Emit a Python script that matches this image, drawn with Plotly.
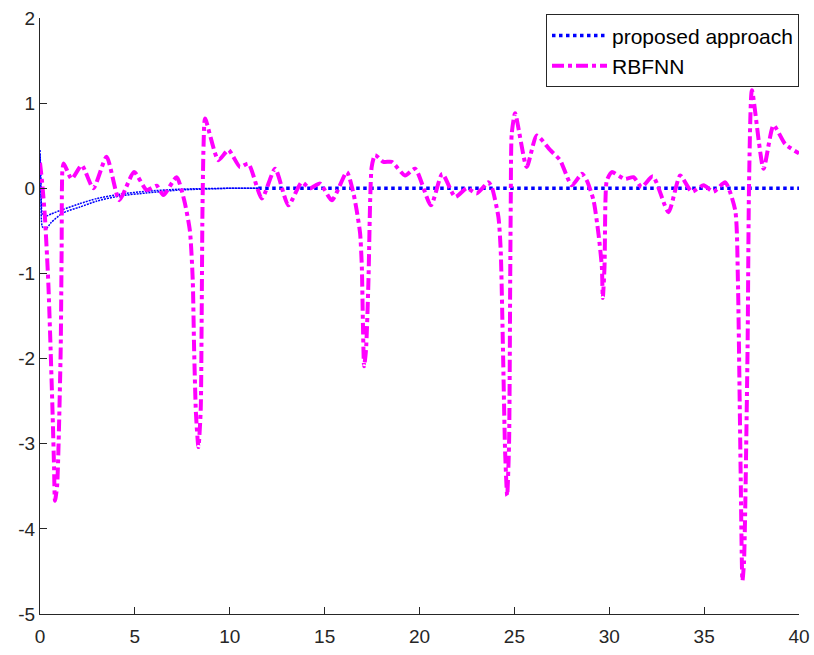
import plotly.graph_objects as go

# RBFNN tracking error
t_rbf = [0, 0.12, 0.26, 0.44, 0.56, 0.67, 0.74, 0.79, 0.9, 0.97, 1.09, 1.14, 1.18, 1.25,
         1.67, 2.2, 2.81, 3.51, 4.18, 4.96, 5.62, 6.15, 6.5, 7.2, 7.6, 7.9, 8.05, 8.12,
         8.22, 8.35, 8.47, 8.52, 8.56, 8.62, 8.7, 9.4, 9.93, 10.54, 10.98, 11.69, 12.39,
         13.09, 13.79, 14.23, 14.76, 15.38, 16.17, 16.52, 16.69, 16.87, 16.96, 17.02,
         17.08, 17.18, 17.31, 17.4, 17.48, 17.66, 18.1, 18.54, 19.24, 19.77, 20.6, 21.2,
         21.88, 22.49, 23.02, 23.63, 23.81, 24.16, 24.28, 24.4, 24.51, 24.62, 24.72,
         24.78, 24.81, 24.86, 25.04, 25.65, 26.18, 26.88, 27.41, 28.03, 28.56, 28.82,
         29.17, 29.43, 29.61, 29.66, 29.75, 29.8, 29.87, 30.14, 30.8, 31.28, 31.7, 32.3,
         33.12, 33.74, 34.35, 34.97, 35.49, 36.11, 36.64, 36.78, 36.86, 36.93, 37.02,
         37.1, 37.16, 37.29, 37.37, 37.52, 38.13, 38.66, 39.27, 40.0]
e_rbf = [0.3, 0.05, -0.34, -1.12, -1.9, -2.69, -3.27, -3.67, -3.5, -3.08, -1.9, -0.73, 0.21, 0.29,
         0.11, 0.27, 0.0, 0.37, -0.14, 0.19, -0.02, 0.03, -0.08, 0.13, -0.14, -0.5, -1.08, -1.87,
         -2.65, -3.04, -2.6, -1.5, -0.3, 0.5, 0.82, 0.33, 0.45, 0.25, 0.29, -0.12, 0.23,
         -0.2, 0.07, 0.0, 0.055, -0.14, 0.19, -0.06, -0.26, -0.53, -0.92, -1.6,
         -2.09, -1.9, -1.08, -0.14, 0.25, 0.39, 0.31, 0.31, 0.15, 0.23, -0.2, 0.17,
         -0.1, 0.0, -0.06, 0.07, 0.015, -0.34, -0.73, -1.9, -3.08, -3.61, -3.0,
         -1.08, -0.14, 0.64, 0.88, 0.25, 0.62, 0.45, 0.33, 0.035, 0.17, 0.09,
         -0.14, -0.53, -0.92, -1.29, -0.92, -0.14, 0.09, 0.19, 0.11, 0.13, 0.015, 0.14,
         -0.28, 0.15, -0.04, 0.035, -0.04, 0.07, -0.26, -1.08, -2.26, -3.43, -4.61,
         -4.4, -3.84, -1.87, 0.09, 1.15, 0.23, 0.74, 0.52, 0.41]

# proposed approach: transient band (upper / lower edge) and steady state
t_tr = [0, 0.05, 0.12, 0.3, 0.6, 1.2, 2.1, 3.0, 4.2, 5.6, 7.4, 10, 11.5]
e_tr_hi = [0.45, 0.1, -0.3, -0.33, -0.3, -0.25, -0.18, -0.12, -0.07, -0.035, -0.01, 0, 0]
e_tr_lo = [0.40, -0.1, -0.45, -0.48, -0.40, -0.29, -0.22, -0.15, -0.09, -0.055, -0.02, 0, 0]
t_ss = [11.5, 40]
e_ss = [0, 0]

x_ticks = [0, 5, 10, 15, 20, 25, 30, 35, 40]
y_ticks = [-5, -4, -3, -2, -1, 0, 1, 2]
y_labels = ["-5", "-4", "-3", "-2", "-1", "0", "1", "2"]

BLUE = "#0000ff"
MAGENTA = "#ff00ff"
AXIS = "#262626"
FONT = "Liberation Sans, Arial, Helvetica, sans-serif"

fig = go.Figure()

for band in (e_tr_hi, e_tr_lo):
    fig.add_trace(go.Scatter(
        x=t_tr, y=band, mode="lines", showlegend=False, hoverinfo="skip",
        line=dict(color=BLUE, width=1.5, dash="2px,1px", shape="spline", smoothing=0.6),
    ))

fig.add_trace(go.Scatter(
    x=t_ss, y=e_ss, mode="lines", name="proposed approach",
    line=dict(color=BLUE, width=3.5, dash="dot"),
))

fig.add_trace(go.Scatter(
    x=t_rbf, y=e_rbf, mode="lines", name="RBFNN",
    line=dict(color=MAGENTA, width=4, dash="12px,4px,4px,4px", shape="spline", smoothing=0.6),
))

axis_common = dict(
    showgrid=False, zeroline=False, showline=True, linecolor=AXIS, linewidth=1.2,
    ticks="inside", ticklen=7, tickwidth=1.2, tickcolor=AXIS, automargin=False,
    tickfont=dict(family=FONT, size=19, color=AXIS), mirror=False,
)

fig.update_layout(
    width=814, height=655,
    margin=dict(l=40, r=15, t=18, b=41, autoexpand=False),
    paper_bgcolor="white", plot_bgcolor="white",
    font=dict(family=FONT),
    xaxis=dict(range=[0, 40], tickvals=x_ticks, ticklabelstandoff=5, **axis_common),
    yaxis=dict(range=[-5, 2], tickvals=y_ticks, ticktext=y_labels, **axis_common),
    legend=dict(
        x=1.0, y=1.006, xanchor="right", yanchor="top",
        bgcolor="white", bordercolor=AXIS, borderwidth=1,
        font=dict(family=FONT, size=21, color="black"),
        itemwidth=55, tracegroupgap=0,
    ),
    showlegend=True,
)

fig.write_html("out.html")
